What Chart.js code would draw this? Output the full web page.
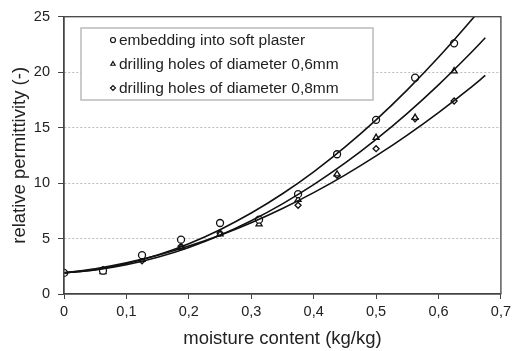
<!DOCTYPE html>
<html>
<head>
<meta charset="utf-8">
<script src="https://cdn.jsdelivr.net/npm/chart.js@4.4.0/dist/chart.umd.min.js"></script>
<style>
  html, body { margin: 0; padding: 0; background: #fff; }
  #wrap { width: 515px; height: 351px; }
</style>
</head>
<body>
<div id="wrap"><canvas id="permChart"></canvas></div>
<script>
// measured moisture contents (kg/kg)
const moisture = [0, 0.0625, 0.125, 0.1875, 0.25, 0.3125, 0.375, 0.4375, 0.5, 0.5625, 0.625];

// relative permittivity
const plasterVals = [1.9, 2.1, 3.5, 4.9, 6.4, 6.7, 9.0, 12.6, 15.7, 19.5, 22.6];
const holes06Vals = [1.9, 2.0, 3.1, 4.2, 5.4, 6.3, 8.5, 10.8, 14.1, 15.9, 20.1];
const holes08Vals = [1.9, 2.2, 3.0, 4.3, 5.5, 6.6, 8.0, 10.7, 13.1, 15.8, 17.4];

// trend curves
const curveX = [0, 0.05, 0.1, 0.15, 0.2, 0.25, 0.3, 0.35, 0.4, 0.45, 0.5, 0.55, 0.6, 0.65, 0.675];
const plasterCurve = [1.9, 2.2, 2.74, 3.52, 4.54, 5.8, 7.3, 9.04, 11.02, 13.24, 15.7, 18.4, 21.34, 24.52, 26.2];
const holes06Curve = [1.9, 2.16, 2.63, 3.31, 4.2, 5.3, 6.61, 8.13, 9.86, 11.79, 13.94, 16.29, 18.86, 21.64, 23.1];
const holes08Curve = [1.9, 2.28, 2.81, 3.49, 4.32, 5.3, 6.43, 7.71, 9.14, 10.72, 12.45, 14.33, 16.36, 18.54, 19.7];

const seriesLabels = [
    'embedding into soft plaster',
    'drilling holes of diameter 0,6mm',
    'drilling holes of diameter 0,8mm'
];

const xTicks = [0, 0.1, 0.2, 0.3, 0.4, 0.5, 0.6, 0.7];
const yTicks = [0, 5, 10, 15, 20, 25];

const FONT = '"Liberation Sans", Arial, sans-serif';

function toPoints(xs, ys) {
    return xs.map((x, i) => ({ x: x, y: ys[i] }));
}

function curveSet(ys) {
    return {
        data: toPoints(curveX, ys),
        borderColor: '#111',
        borderWidth: 1.6,
        pointRadius: 0,
        cubicInterpolationMode: 'monotone',
        isCurve: true
    };
}

function markSet(label, ys, style, r) {
    return {
        label: label,
        data: toPoints(moisture, ys),
        showLine: false,
        pointStyle: style,
        pointRadius: r,
        pointBorderColor: '#111',
        pointBackgroundColor: '#fff',
        pointBorderWidth: 1.3
    };
}

// plot frame + legend box inside the plot
const framePlugin = {
    id: 'frame',
    afterDatasetsDraw(chart) {
        const ctx = chart.ctx;
        const a = chart.chartArea;
        ctx.save();
        ctx.setLineDash([]);
        ctx.strokeStyle = '#444';
        ctx.lineWidth = 1.3;
        ctx.strokeRect(a.left, a.top, a.right - a.left, a.bottom - a.top);

        // legend
        ctx.fillStyle = '#fff';
        ctx.fillRect(81, 28, 292, 72);
        ctx.strokeStyle = '#bbb';
        ctx.lineWidth = 1.5;
        ctx.strokeRect(81, 28, 292, 72);
        ctx.font = '15.5px ' + FONT;
        ctx.textBaseline = 'middle';
        const rows = [40, 64, 88];
        const marks = chart.data.datasets.filter(d => !d.isCurve);
        marks.forEach((ds, i) => {
            ctx.strokeStyle = '#111';
            ctx.fillStyle = '#fff';
            ctx.lineWidth = 1.2;
            Chart.helpers.drawPoint(ctx, { pointStyle: ds.pointStyle, radius: 2.5, borderWidth: 1.2 }, 113, rows[i]);
            ctx.fillStyle = '#222';
            ctx.fillText(ds.label, 119, rows[i] + 1);
        });
        ctx.restore();
    }
};

const ctx = document.getElementById('permChart').getContext('2d');
const permChart = new Chart(ctx, {
    type: 'line',
    data: {
        datasets: [
            curveSet(plasterCurve),
            curveSet(holes06Curve),
            curveSet(holes08Curve),
            markSet(seriesLabels[0], plasterVals, 'circle', 3.5),
            markSet(seriesLabels[1], holes06Vals, 'triangle', 3.5),
            markSet(seriesLabels[2], holes08Vals, 'rectRot', 3)
        ]
    },
    options: {
        responsive: true,
        maintainAspectRatio: false,
        animation: false,
        layout: {
            padding: { top: 16, right: 9, bottom: 1, left: 0 }
        },
        scales: {
            x: {
                type: 'linear',
                min: 0,
                max: 0.7,
                afterBuildTicks: (scale) => { scale.ticks = xTicks.map(v => ({ value: v })); },
                afterFit: (scale) => { scale.height = 56; },
                border: { color: '#444', width: 1.3 },
                grid: {
                    drawOnChartArea: false,
                    drawTicks: true,
                    tickLength: 5,
                    tickColor: '#444'
                },
                ticks: {
                    padding: 4,
                    color: '#222',
                    font: { family: FONT, size: 14.5 },
                    callback: (v) => String(Math.round(v * 10) / 10).replace('.', ',')
                },
                title: {
                    display: true,
                    text: 'moisture content (kg/kg)',
                    color: '#222',
                    font: { family: FONT, size: 18.5 },
                    padding: { top: 6, bottom: 0 }
                }
            },
            y: {
                min: 0,
                max: 25,
                afterBuildTicks: (scale) => { scale.ticks = yTicks.map(v => ({ value: v })); },
                afterFit: (scale) => { scale.width = 64; },
                border: { color: '#444', width: 1.3, dash: [2, 2] },
                grid: {
                    color: (c) => (c.tick && (c.tick.value === 0 || c.tick.value === 25)) ? 'rgba(0,0,0,0)' : '#bbb',
                    lineWidth: 1,
                    drawTicks: true,
                    tickLength: 6,
                    tickColor: '#444',
                    tickBorderDash: []
                },
                ticks: {
                    padding: 8,
                    color: '#222',
                    font: { family: FONT, size: 14.5 }
                },
                title: {
                    display: true,
                    text: 'relative permittivity (-)',
                    color: '#222',
                    font: { family: FONT, size: 18.5 },
                    padding: { top: 9, bottom: 4 }
                }
            }
        },
        plugins: {
            legend: { display: false },
            tooltip: { enabled: false }
        }
    },
    plugins: [framePlugin]
});
</script>
</body>
</html>
